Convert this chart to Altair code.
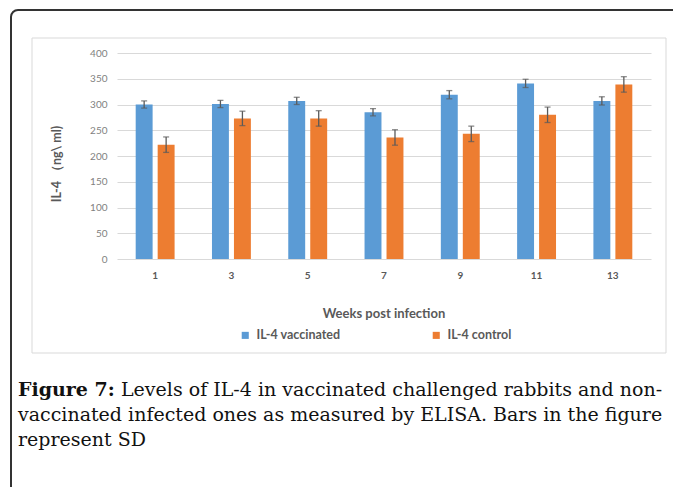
import altair as alt
import pandas as pd

# ---- data ----
weeks = ["1", "3", "5", "7", "9", "11", "13"]
series = ["IL-4 vaccinated", "IL-4 control"]
vaccinated = [300, 301, 307, 285, 319, 341, 307]
vaccinated_sd = [7, 7, 7, 7, 8, 8, 8]
control = [222, 273, 273, 236, 243, 280, 339]
control_sd = [15, 14, 15, 15, 15, 15, 15]
y_ticks = [0, 50, 100, 150, 200, 250, 300, 350, 400]
colors = ["#5B9BD5", "#ED7D31"]

y_title = "IL-4 \uff08ng\\ ml)"
x_title = "Weeks post infection"
cap_bold = "Figure 7:"
cap_line1 = "Levels of IL-4 in vaccinated challenged rabbits and non-"
cap_line2 = "vaccinated infected ones as measured by ELISA. Bars in the figure"
cap_line3 = "represent SD"

rows = []
for i, w in enumerate(weeks):
    rows.append({"week": w, "series": series[0], "value": vaccinated[i], "sd": vaccinated_sd[i]})
    rows.append({"week": w, "series": series[1], "value": control[i], "sd": control_sd[i]})
df = pd.DataFrame(rows)
df["lo"] = df["value"] - df["sd"]
df["hi"] = df["value"] + df["sd"]

W, H = 534, 206
FONT = "Lato"
GREY = "#595959"
ERR = "#5a5a5a"

x_axis = alt.Axis(title=None, labelAngle=0, labelFont=FONT, labelFontSize=10,
                  labelFontWeight="bold", labelColor=GREY, labelPadding=11,
                  ticks=False, domain=False, grid=False)
y_axis = alt.Axis(values=y_ticks, title=None, grid=True, gridColor="#D9D9D9",
                  gridWidth=1, ticks=False, domain=False, labelFont=FONT,
                  labelFontSize=10, labelColor="#7F7F7F", labelPadding=10,
                  labelOverlap=False)
x_scale = alt.Scale(paddingInner=0.49, paddingOuter=0.245)
y_scale = alt.Scale(domain=[0, 400])


def xe():
    return alt.X("week:N", sort=weeks, scale=x_scale, axis=x_axis)


def xoe():
    return alt.XOffset("series:N", sort=series, scale=alt.Scale(paddingInner=0.23, paddingOuter=0))


bars = alt.Chart(df).mark_bar().encode(
    x=xe(),
    xOffset=xoe(),
    y=alt.Y("value:Q", scale=y_scale, axis=y_axis),
    color=alt.Color("series:N", sort=series,
                    scale=alt.Scale(domain=series, range=colors),
                    legend=alt.Legend(title=None, orient="none", legendX=122, legendY=276,
                                      direction="horizontal", symbolType="square",
                                      symbolSize=50, symbolStrokeWidth=0,
                                      labelFont=FONT, labelFontSize=12.5,
                                      labelFontWeight="bold", labelColor=GREY,
                                      columnPadding=89, labelOffset=5)),
)

err_rule = alt.Chart(df).mark_rule(color=ERR, strokeWidth=1.3).encode(
    x=xe(), xOffset=xoe(), y=alt.Y("lo:Q", scale=y_scale, axis=y_axis), y2="hi:Q")
cap_lo = alt.Chart(df).mark_tick(color=ERR, thickness=1.3, size=6).encode(
    x=xe(), xOffset=xoe(), y=alt.Y("lo:Q", scale=y_scale, axis=y_axis))
cap_hi = alt.Chart(df).mark_tick(color=ERR, thickness=1.3, size=6).encode(
    x=xe(), xOffset=xoe(), y=alt.Y("hi:Q", scale=y_scale, axis=y_axis))

one = pd.DataFrame({"a": [0]})

outer = alt.Chart(one).mark_rect(fillOpacity=0, stroke="#333333", strokeWidth=2,
                                 cornerRadius=7).encode(
    x=alt.value(-106), x2=alt.value(600), y=alt.value(-43), y2=alt.value(520))
inner = alt.Chart(one).mark_rect(fillOpacity=0, stroke="#D9D9D9", strokeWidth=1).encode(
    x=alt.value(-85), x2=alt.value(549), y=alt.value(-15), y2=alt.value(300))

ytitle = alt.Chart(one).mark_text(angle=270, font=FONT, fontSize=12.5, fontWeight="bold",
                                  color=GREY, align="center", baseline="middle").encode(
    x=alt.value(-60), y=alt.value(111), text=alt.value(y_title))
xtitle = alt.Chart(one).mark_text(font=FONT, fontSize=13, fontWeight="bold",
                                  color=GREY, align="center", baseline="middle").encode(
    x=alt.value(267), y=alt.value(261), text=alt.value(x_title))

SERIF = "DejaVu Serif"
CS = 19
c0 = alt.Chart(one).mark_text(font=SERIF, fontSize=CS, fontWeight="bold", color="#111111",
                              align="left", baseline="alphabetic").encode(
    x=alt.value(-99), y=alt.value(343), text=alt.value(cap_bold))
c1 = alt.Chart(one).mark_text(font=SERIF, fontSize=CS, color="#111111",
                              align="left", baseline="alphabetic").encode(
    x=alt.value(4), y=alt.value(343), text=alt.value(cap_line1))
c2 = alt.Chart(one).mark_text(font=SERIF, fontSize=CS, color="#111111",
                              align="left", baseline="alphabetic").encode(
    x=alt.value(-99), y=alt.value(368), text=alt.value(cap_line2))
c3 = alt.Chart(one).mark_text(font=SERIF, fontSize=CS, color="#111111",
                              align="left", baseline="alphabetic").encode(
    x=alt.value(-99), y=alt.value(393), text=alt.value(cap_line3))

chart = alt.layer(
    outer, inner, bars, err_rule, cap_lo, cap_hi, ytitle, xtitle, c0, c1, c2, c3
).properties(
    width=W, height=H,
    autosize=alt.AutoSizeParams(type="none"),
    padding={"left": 109, "top": 45, "right": 22, "bottom": 228},
    background="white",
).configure_view(stroke=None)

chart.save("out.html", embed_options={"renderer": "svg", "actions": False})
